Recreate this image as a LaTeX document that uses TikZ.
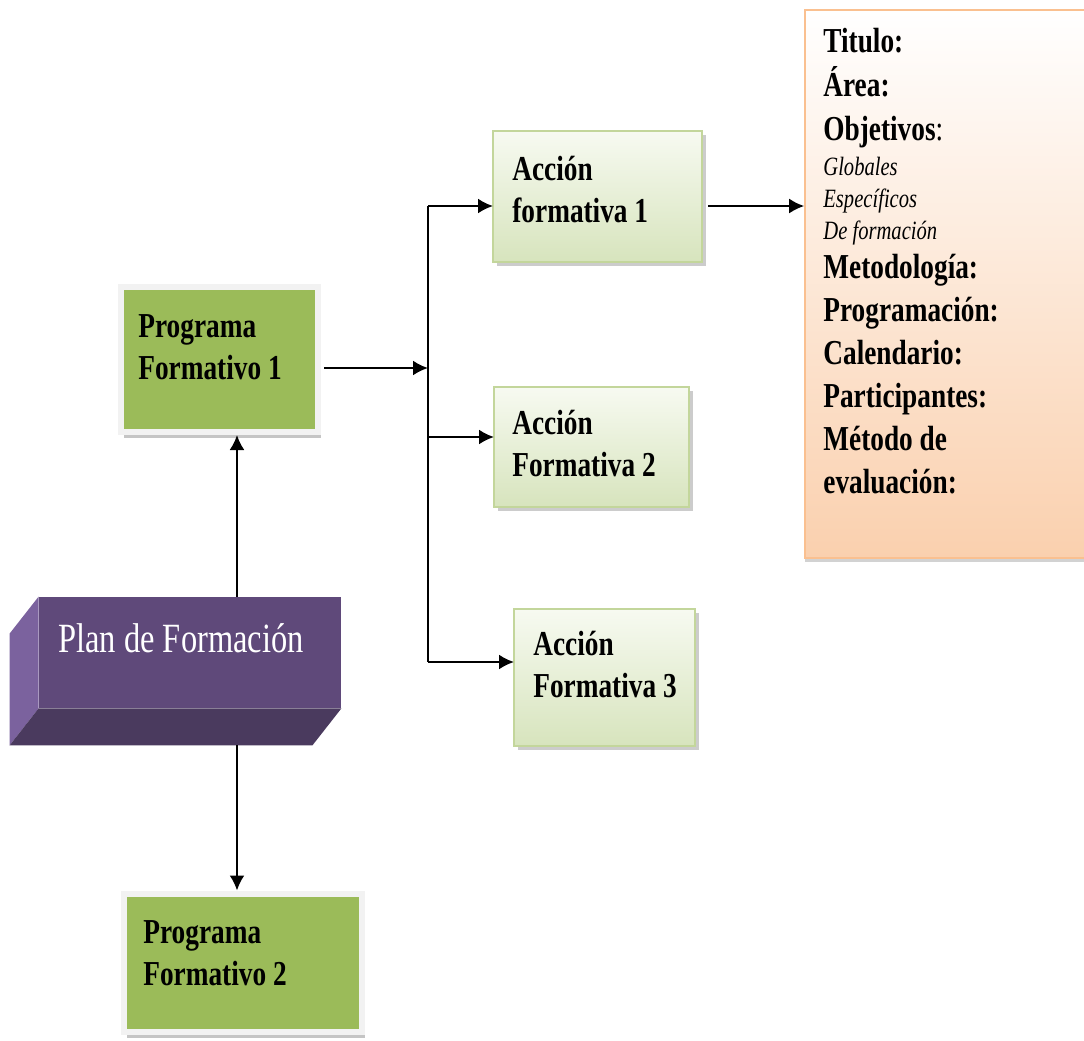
\documentclass[tikz,border=0pt]{standalone}
\usepackage{fontspec}
\setmainfont{Liberation Serif}[FakeStretch=0.78]
\usetikzlibrary{arrows.meta,shadows}

\definecolor{progreen}{HTML}{9BBB59}
\definecolor{framegray}{HTML}{F2F2F2}
\definecolor{acctop}{HTML}{F7FAF1}
\definecolor{accbot}{HTML}{D7E4BD}
\definecolor{accline}{HTML}{C3D69B}
\definecolor{plfront}{HTML}{5F497A}
\definecolor{plside}{HTML}{7B629E}
\definecolor{plbottom}{HTML}{4A3A5E}
\definecolor{fichabot}{HTML}{FAD0AE}
\definecolor{fichaline}{HTML}{FAC090}

\tikzset{
  programa/.style={fill=progreen, draw=framegray, line width=3pt, inner sep=0pt, outer sep=0pt,
    drop shadow={shadow xshift=1.5pt, shadow yshift=-3pt, fill=black!45}},
  accion/.style={top color=acctop, bottom color=accbot, draw=accline, line width=0.6pt, inner sep=0pt, outer sep=0pt,
    drop shadow={shadow xshift=2pt, shadow yshift=-2pt, fill=black!40}},
  boxtext/.style={anchor=base west, align=left, inner sep=0pt, font=\fontsize{17.5}{21}\selectfont\bfseries},
  arr/.style={line width=1.1pt, -{Latex[length=7.5pt,width=7.5pt]}},
}
\newcommand\itemfont{\fontsize{13.2}{16}\selectfont\mdseries\itshape}

\begin{document}
\begin{tikzpicture}[x=0.5pt,y=-0.5pt]
    \useasboundingbox (0,0) rectangle (1084,1041);

    % ficha de la accion formativa (texto anclado en la ultima linea)
    \node[top color=white, bottom color=fichabot, draw=fichaline, line width=0.8pt, inner sep=0pt,
      minimum width=145pt, minimum height=274pt,
      drop shadow={shadow xshift=0pt, shadow yshift=-2pt, fill=black!35}] (ficha) at (950,284) {};
    \node[boxtext, font=\fontsize{17.5}{21.5}\selectfont\bfseries] (fichatxt) at (823,493)
      {Titulo:\\[0.5pt]Área:\\[0.3pt]Objetivos{\mdseries :}\\[-4pt]
       {\itemfont Globales}\\[-5.5pt]{\itemfont Específicos}\\[-5.5pt]{\itemfont De formación}\\[-2pt]
       Metodología:\\Programación:\\Calendario:\\Participantes:\\Método de\\evaluación:};

    % programas
    \node[programa, minimum width=98.5pt, minimum height=72.5pt] (pf1) at (219.5,359.5) {};
    \node[programa, minimum width=119pt, minimum height=69pt] (pf2) at (242.5,962.5) {};
    \node[boxtext] (pf1txt) at (138,379) {Programa\\Formativo 1};
    \node[boxtext] (pf2txt) at (143,985) {Programa\\Formativo 2};

    % acciones
    \node[accion, minimum width=104.5pt, minimum height=65.5pt] (af1) at (597.5,196.5) {};
    \node[accion, minimum width=97.5pt, minimum height=60pt] (af2) at (591.5,447) {};
    \node[accion, minimum width=90.5pt, minimum height=68.5pt] (af3) at (604.5,677.5) {};
    \node[boxtext] (af1txt) at (512,222) {Acción\\formativa 1};
    \node[boxtext] (af2txt) at (512,476) {Acción\\Formativa 2};
    \node[boxtext] (af3txt) at (533,697) {Acción\\Formativa 3};

    % plan (caja en relieve)
    \node[fill=plfront, inner sep=0pt, minimum width=151pt, minimum height=55.5pt] (plan) at (190,652.5) {};
    \fill[plside] (plan.north west) -- (plan.south west) -- ++(-29,37) -- ([shift={(-29,37)}]plan.north west) -- cycle;
    \fill[plbottom] (plan.south west) -- (plan.south east) -- ++(-29,37) -- ([shift={(-29,37)}]plan.south west) -- cycle;
    \node[white, inner sep=0pt, anchor=base, font=\fontsize{20.8}{25}\selectfont] (plantxt) at (181,652) {Plan de Formación};

    \coordinate (up) at ([shift={(47,0)}]plan.north);
    \coordinate (down) at ([shift={(47,37)}]plan.south);
    \coordinate (split) at (428,368);
    \coordinate (b1) at (428,206);
    \coordinate (b2) at (428,437);
    \coordinate (b3) at (428,662);

    \draw[arr, shorten >=1.5pt] (up) -- (up |- pf1.south);
    \draw[arr, shorten >=1.5pt] (down) -- (down |- pf2.north);
    \draw[arr, shorten <=3pt] (split -| pf1.east) -- (split);
    \draw[line width=1.1pt] (b1) -- (b3);
    \draw[arr] (b1) -- (b1 -| af1.west);
    \draw[arr] (b2) -- (b2 -| af2.west);
    \draw[arr] (b3) -- (b3 -| af3.west);
    \draw[arr, shorten <=3pt] (b1 -| af1.east) -- (b1 -| ficha.west);
\end{tikzpicture}
\end{document}
